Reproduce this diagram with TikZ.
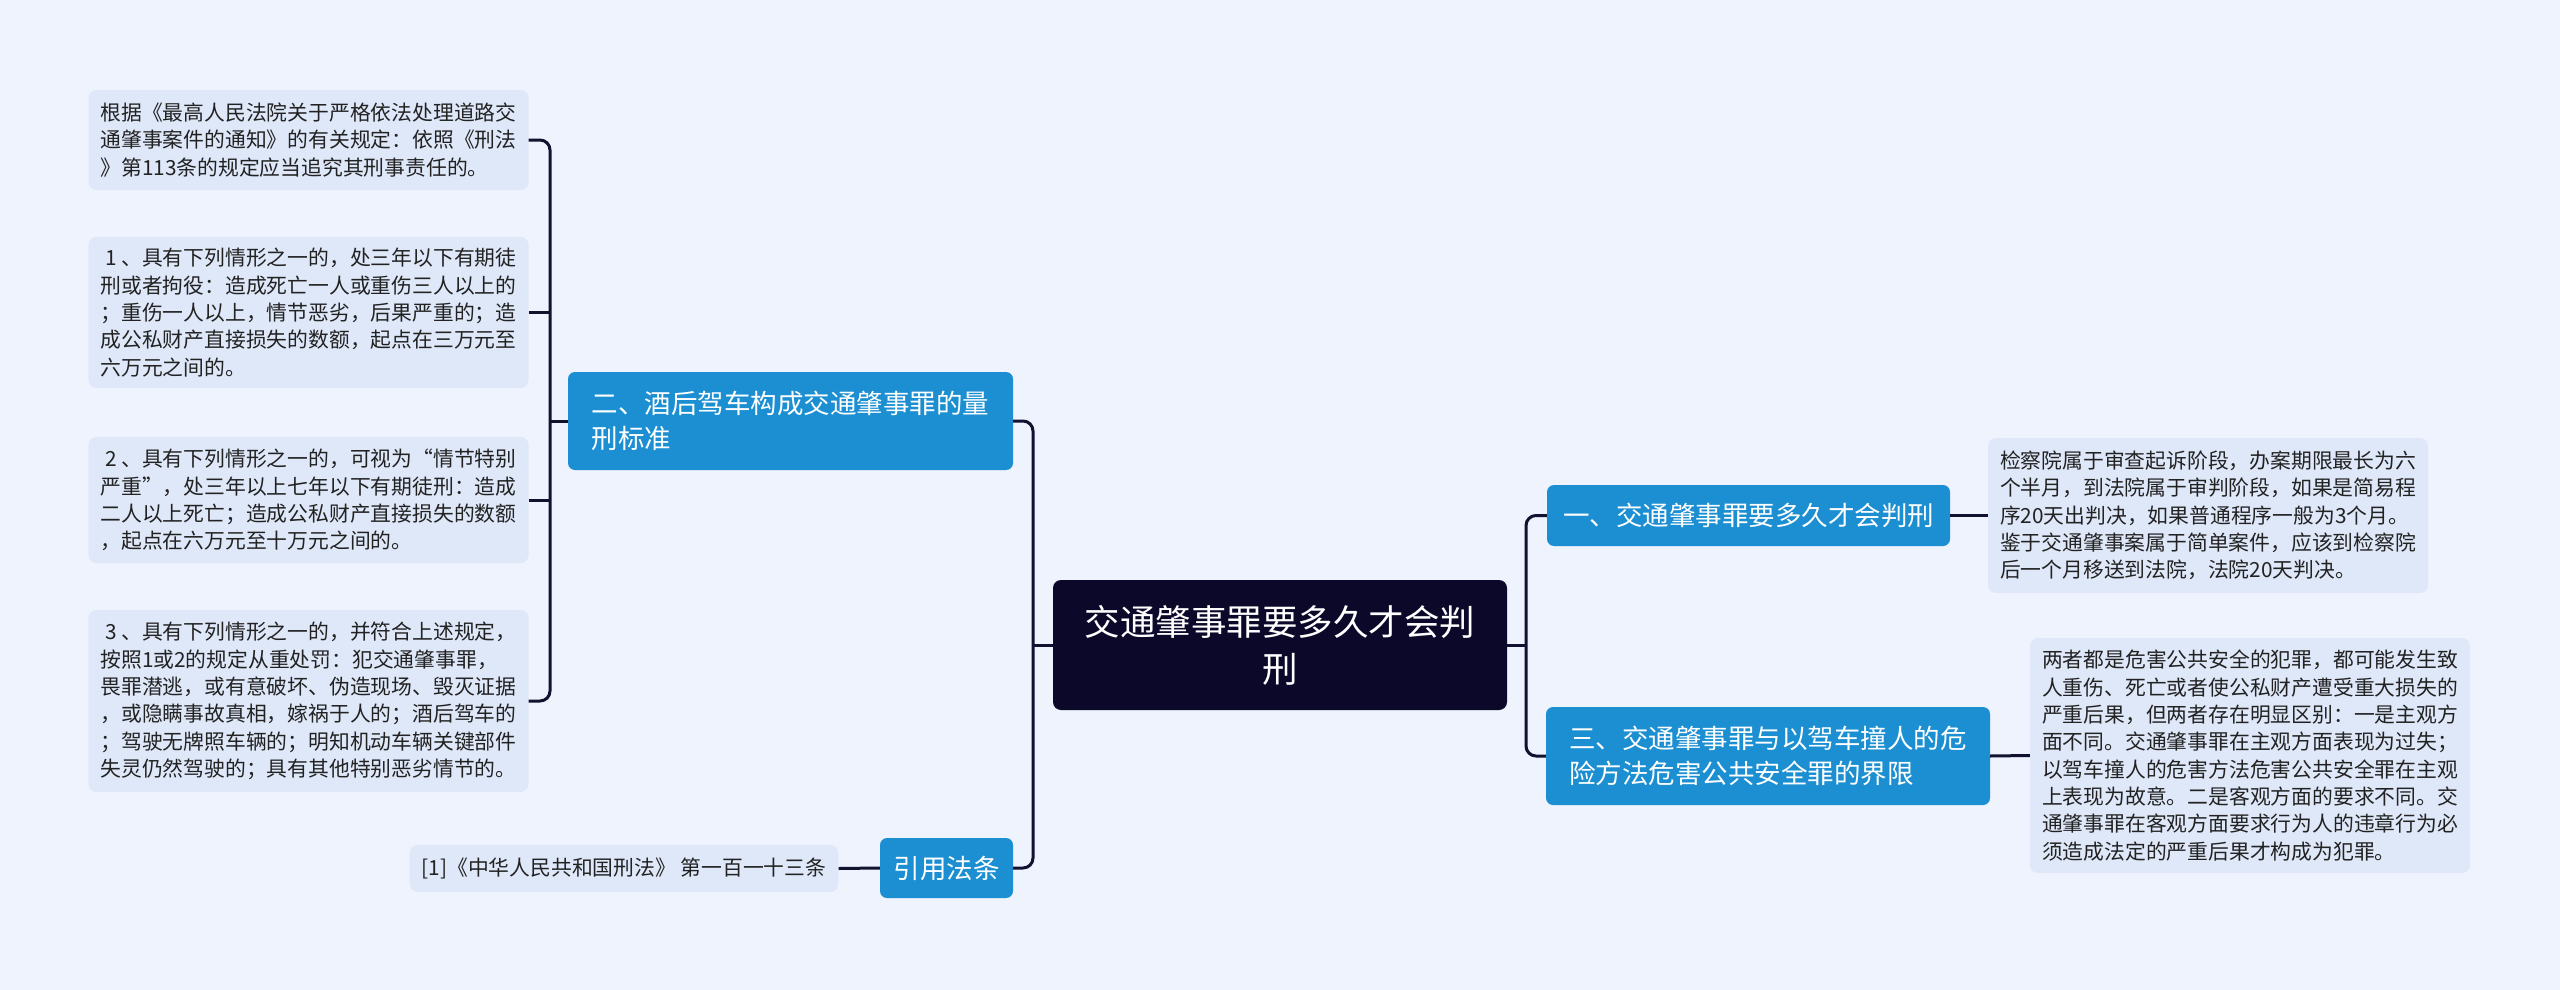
\documentclass[tikz,border=0pt]{standalone}
\usepackage{fontspec}
\setmainfont{Noto Sans CJK SC}
\definecolor{bgc}{HTML}{EEF3FD}
\definecolor{boxc}{HTML}{DFE8F9}
\definecolor{bluec}{HTML}{1B8FD1}
\definecolor{darkc}{HTML}{0B0829}
\definecolor{linec}{HTML}{121230}
\definecolor{textc}{HTML}{222222}
\begin{document}
\begin{tikzpicture}[x=1pt,y=-1pt,
  textbox/.style={fill=boxc, rounded corners=8pt, inner xsep=12pt, inner ysep=8pt, align=left, text=textc, font=\fontsize{20.8}{27.3}\selectfont},
  bluebox/.style={fill=bluec, rounded corners=7pt, text=white, font=\fontsize{26.5}{35}\selectfont, align=left, inner sep=0pt},
  rootbox/.style={fill=darkc, rounded corners=8pt, text=white, font=\fontsize{35.5}{47}\selectfont, align=center, inner sep=0pt},
  conn/.style={draw=linec, line width=3pt, rounded corners=10pt}]
\fill[bgc] (0,0) rectangle (2560,990);
\useasboundingbox (0,0) rectangle (2560,990);

% root
\node[rootbox, minimum width=454pt, minimum height=130pt] (root) at (1280,645) {交通肇事罪要多久才会判\\刑};

% level 1 nodes
\node[bluebox, minimum width=445pt, minimum height=98pt] (n2) at (790.5,421) {二、酒后驾车构成交通肇事罪的量\\刑标准};
\node[bluebox, minimum width=133pt, minimum height=60pt, align=center] (cite) at (946.5,868) {引用法条};
\node[bluebox, minimum width=403pt, minimum height=61pt] (n1) at (1748.5,515.5) {一、交通肇事罪要多久才会判刑};
\node[bluebox, minimum width=444pt, minimum height=98pt] (n3) at (1768,756) {三、交通肇事罪与以驾车撞人的危\\险方法危害公共安全罪的界限};

% left text boxes
\node[textbox, minimum width=439pt, minimum height=100pt] (L1) at (308.5,140) {根据《最高人民法院关于严格依法处理道路交\\通肇事案件的通知》的有关规定：依照《刑法\\》第113条的规定应当追究其刑事责任的。};
\node[textbox, minimum width=439pt, minimum height=151pt] (L2) at (308.5,312.5) {\hbox{}\ 1 、具有下列情形之一的，处三年以下有期徒\\刑或者拘役：造成死亡一人或重伤三人以上的\\；重伤一人以上，情节恶劣，后果严重的；造\\成公私财产直接损失的数额，起点在三万元至\\六万元之间的。};
\node[textbox, minimum width=439pt, minimum height=126pt] (L3) at (308.5,500) {\hbox{}\ 2 、具有下列情形之一的，可视为“情节特别\\严重”，处三年以上七年以下有期徒刑：造成\\二人以上死亡；造成公私财产直接损失的数额\\，起点在六万元至十万元之间的。};
\node[textbox, minimum width=439pt, minimum height=182pt] (L4) at (308.5,701) {\hbox{}\ 3 、具有下列情形之一的，并符合上述规定，\\按照1或2的规定从重处罚：犯交通肇事罪，\\畏罪潜逃，或有意破坏、伪造现场、毁灭证据\\，或隐瞒事故真相，嫁祸于人的；酒后驾车的\\；驾驶无牌照车辆的；明知机动车辆关键部件\\失灵仍然驾驶的；具有其他特别恶劣情节的。};
\node[textbox, minimum width=428pt, minimum height=47pt, align=center] (C1) at (624,868.5) {[1]《中华人民共和国刑法》 第一百一十三条};

% right text boxes
\node[textbox, minimum width=440pt, minimum height=155pt] (R1) at (2208,515.5) {检察院属于审查起诉阶段，办案期限最长为六\\个半月，到法院属于审判阶段，如果是简易程\\序20天出判决，如果普通程序一般为3个月。\\鉴于交通肇事案属于简单案件，应该到检察院\\后一个月移送到法院，法院20天判决。};
\node[textbox, minimum width=438pt, minimum height=235pt] (R2) at (2250,755.5) {两者都是危害公共安全的犯罪，都可能发生致\\人重伤、死亡或者使公私财产遭受重大损失的\\严重后果，但两者存在明显区别：一是主观方\\面不同。交通肇事罪在主观方面表现为过失；\\以驾车撞人的危害方法危害公共安全罪在主观\\上表现为故意。二是客观方面的要求不同。交\\通肇事罪在客观方面要求行为人的违章行为必\\须造成法定的严重后果才构成为犯罪。};

% junctions
\coordinate (lj) at (1033,645);
\coordinate (rj) at (1526,645);
\coordinate (lb) at (550,421);

% connectors
\draw[conn] (root.west) -- (lj);
\draw[conn] (n2.east) -| (lj) |- (cite.east);
\draw[conn] (root.east) -- (rj);
\draw[conn] (n1.west) -| (rj) |- (n3.west);
\draw[conn] (n2.west) -- (lb);
\draw[conn] (L1.east) -| (lb) |- (L4.east);
\draw[conn] (L2.east) -- (L2.east -| lb);
\draw[conn] (L3.east) -- (L3.east -| lb);
\draw[conn] (cite.west) -- (C1.east);
\draw[conn] (n1.east) -- (R1.west);
\draw[conn] (n3.east) -- (R2.west);
\end{tikzpicture}
\end{document}
